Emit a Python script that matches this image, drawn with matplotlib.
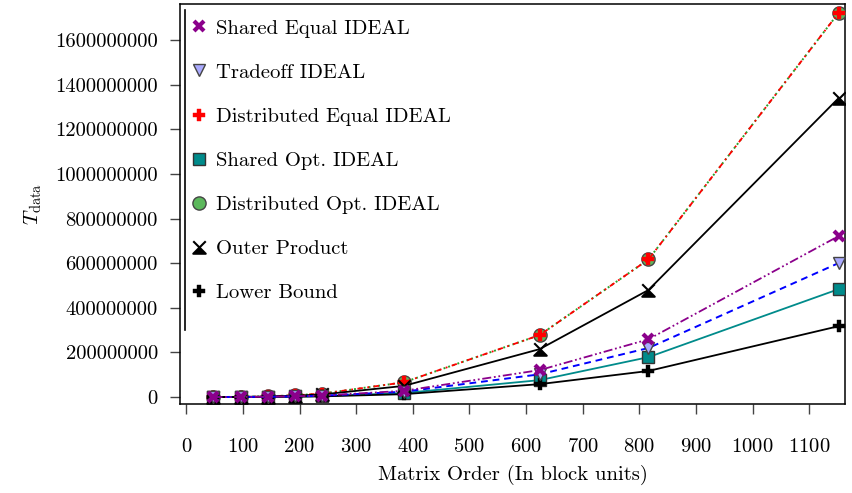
import matplotlib
matplotlib.use('Agg')
import matplotlib.pyplot as plt
from matplotlib.path import Path
from matplotlib.lines import Line2D
from matplotlib.ticker import FuncFormatter

plt.rcParams['font.family'] = ['cmr10']
plt.rcParams['mathtext.fontset'] = 'cm'
plt.rcParams['axes.formatter.use_mathtext'] = True
plt.rcParams['axes.unicode_minus'] = False

# matrix order (block units)
order = [48, 96, 144, 192, 240, 384, 624, 816, 1152]

shared_equal = [0.06e6, 0.45e6, 1.5e6, 3.6e6, 7e6, 28e6, 121e6, 259e6, 722e6]
tradeoff = [0.05e6, 0.38e6, 1.3e6, 3.1e6, 6e6, 24e6, 102e6, 220e6, 601e6]
dist_equal = [0.13e6, 1.0e6, 3.4e6, 8e6, 15.6e6, 66e6, 278e6, 617e6, 1723e6]
shared_opt = [0.04e6, 0.3e6, 1.0e6, 2.4e6, 4.5e6, 18e6, 76e6, 179e6, 484e6]
dist_opt = [0.13e6, 1.0e6, 3.4e6, 8e6, 15.6e6, 66e6, 278e6, 617e6, 1723e6]
outer_product = [0.1e6, 0.8e6, 2.6e6, 6.2e6, 12e6, 50e6, 215e6, 480e6, 1341e6]
lower_bound = [0.03e6, 0.2e6, 0.7e6, 1.6e6, 3.2e6, 13e6, 58e6, 117e6, 318e6]

# half-filled hourglass marker for the outer product
bowtie = Path([(0, 0), (-1, -1), (1, -1), (0, 0), (0, 0), (-1, 1), (0, 0), (1, 1)],
              [Path.MOVETO, Path.LINETO, Path.LINETO, Path.CLOSEPOLY,
               Path.MOVETO, Path.LINETO, Path.MOVETO, Path.LINETO])

fig = plt.figure(figsize=(8.52, 4.93), dpi=100)
ax = fig.add_axes([180 / 852, 1 - 404 / 493, 665 / 852, 400 / 493])

ax.plot(order, shared_equal, color='#8b008b', ls=(0, (5, 1.5, 1, 1.5, 1, 1.5)), lw=1.3,
        marker='x', ms=7.5, mew=3, label='Shared Equal IDEAL', zorder=6)
ax.plot(order, tradeoff, color='blue', ls=(0, (3.5, 2.5)), lw=1.4,
        marker='v', ms=8.5, mfc='#aaaaff', mec='#444444', mew=1, label='Tradeoff IDEAL', zorder=5)
ax.plot(order, dist_opt, color='#2ca02c', ls=(0, (1, 1.5)), lw=1.4,
        marker='o', ms=9.5, mfc='#5cb85c', mec='#444444', mew=1, label='Distributed Opt. IDEAL', zorder=3)
ax.plot(order, dist_equal, color='red', ls=(1, (3, 2.5, 1, 2.5)), lw=1.3,
        marker='P', ms=8.5, mfc='red', mec='red', mew=0.3, label='Distributed Equal IDEAL', zorder=4)
ax.plot(order, shared_opt, color='#008b8b', ls='-', lw=1.3,
        marker='s', ms=8.5, mfc='#008b8b', mec='#333333', mew=1, label='Shared Opt. IDEAL', zorder=4)
ax.plot(order, outer_product, color='black', ls='-', lw=1.3,
        marker=bowtie, ms=9, mfc='black', mec='black', mew=1.5, label='Outer Product', zorder=4)
ax.plot(order, lower_bound, color='black', ls='-', lw=1.3,
        marker='P', ms=8.5, mfc='black', mec='black', mew=0.3, label='Lower Bound', zorder=4)

ax.set_xlim(-11, 1163)
ax.set_ylim(-31e6, 1762e6)
ax.set_xticks(range(0, 1101, 100))
ax.set_yticks(range(0, 1600000001, 200000000))
ax.yaxis.set_major_formatter(FuncFormatter(lambda v, p: f'{int(round(v))}'))
ax.tick_params(axis='both', direction='out', length=7, width=1, color='#444444', labelsize=14.9)
ax.tick_params(axis='x', pad=17.5)
ax.tick_params(axis='y', pad=9)
for s in ax.spines.values():
    s.set_linewidth(1.1)

ax.set_xlabel('Matrix Order (In block units)', fontsize=14.9, labelpad=6)
ax.set_ylabel(r'$T_{\mathrm{data}}$', fontsize=14.9, labelpad=8)

handles, labels = ax.get_legend_handles_labels()
order_idx = [0, 1, 3, 4, 2, 5, 6]
leg = ax.legend([handles[i] for i in order_idx], [labels[i] for i in order_idx],
                loc='upper left', bbox_to_anchor=(0.0, 0.983), frameon=False,
                fontsize=14.9, handlelength=1.0, handletextpad=0.33, labelspacing=1.24,
                borderaxespad=0.0, borderpad=0.4)
for h in leg.legend_handles:
    h.set_linestyle('None')
ax.add_line(Line2D([0.0075, 0.0075], [0.185, 0.985], transform=ax.transAxes,
                   color='black', lw=1.2, zorder=10))

fig.savefig('out.png', dpi=100)
